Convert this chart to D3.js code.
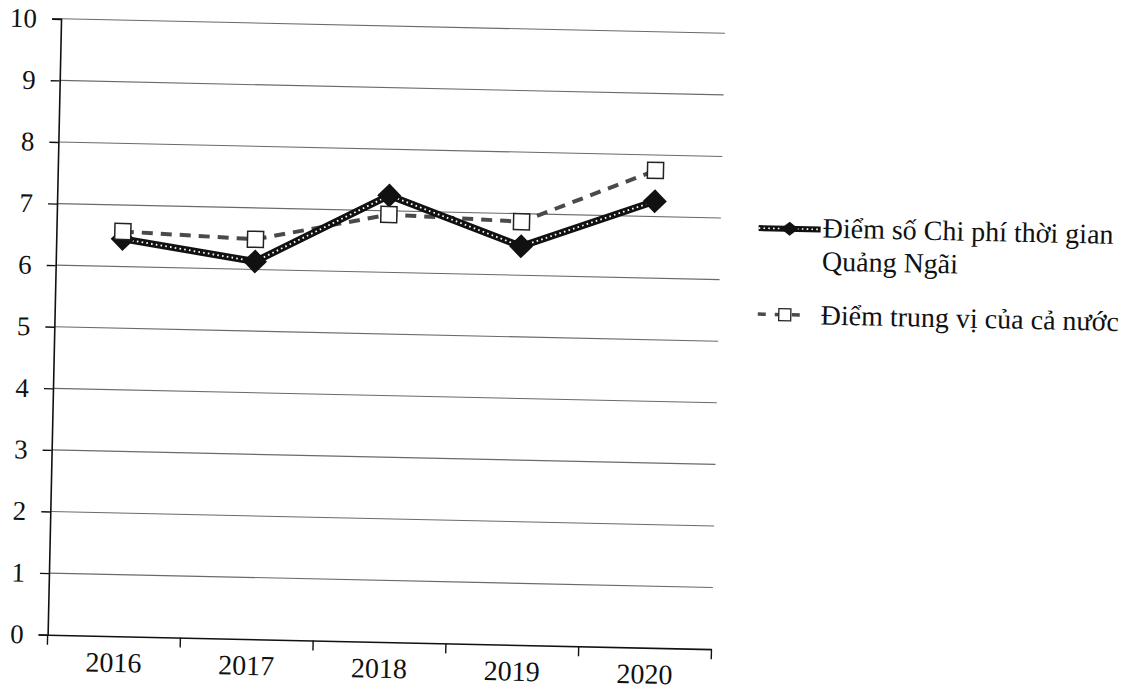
<!DOCTYPE html>
<html>
<head>
<meta charset="utf-8">
<script src="https://cdn.jsdelivr.net/npm/d3@7/dist/d3.min.js"></script>
<style>
  html, body { margin: 0; padding: 0; background: #fff; }
  svg { display: block; }
  text { font-family: "Liberation Serif", "Times New Roman", "DejaVu Serif", serif; fill: #111; }
</style>
</head>
<body>
<svg id="chart" width="1140" height="696"></svg>
<script>
// Time-cost sub-index scores, Quang Ngai vs. national median
const years = ["2016", "2017", "2018", "2019", "2020"];
const quangNgai = [6.45, 6.13, 7.25, 6.47, 7.25];
const nationalMedian = [6.57, 6.49, 6.94, 6.87, 7.75];
const yTicks = [0, 1, 2, 3, 4, 5, 6, 7, 8, 9, 10];
const seriesNames = [
  ["Điểm số Chi phí thời gian", "Quảng Ngãi"],
  ["Điểm trung vị của cả nước"]
];

const W = 1140, H = 696;
const serif = '"Liberation Serif", "Times New Roman", serif';
const svg = d3.select("#chart").attr("font-family", serif);

// the whole page sits slightly tilted
const root = svg.append("g").attr("transform", `rotate(1.25, ${W / 2}, ${H / 2})`);

const plot = { left: 54, right: 718, top: 30, bottom: 646 };

const x = d3.scaleBand().domain(years).range([plot.left, plot.right]);
const y = d3.scaleLinear().domain([0, 10]).range([plot.bottom, plot.top]);

// horizontal gridlines
root.append("g")
  .selectAll("line")
  .data(yTicks.filter(t => t > 0))
  .join("line")
  .attr("x1", plot.left).attr("x2", plot.right)
  .attr("y1", d => y(d)).attr("y2", d => y(d))
  .attr("stroke", "#6a6a6a")
  .attr("stroke-width", 1.1);

// y axis
const yAxis = root.append("g")
  .attr("transform", `translate(${plot.left},0)`)
  .call(d3.axisLeft(y).tickValues(yTicks).tickFormat(d3.format("d")).tickSize(9).tickPadding(15))
  .attr("font-family", serif);
yAxis.select(".domain").attr("stroke", "#111").attr("stroke-width", 1.6);
yAxis.selectAll(".tick line").attr("stroke", "#111").attr("stroke-width", 1.4);
yAxis.selectAll(".tick text")
  .style("font-family", serif)
  .style("font-size", "27px")
  .attr("fill", "#111");

// x axis: labels centred in each band, ticks on band edges
const xAxis = root.append("g")
  .attr("transform", `translate(0,${plot.bottom})`)
  .call(d3.axisBottom(x).tickSize(0).tickPadding(16))
  .attr("font-family", serif);
xAxis.select(".domain").attr("stroke", "#111").attr("stroke-width", 1.6);
xAxis.selectAll(".tick text")
  .style("font-family", serif)
  .style("font-size", "28px")
  .attr("fill", "#111");
const edges = years.map(d => x(d)).concat([x(years[years.length - 1]) + x.bandwidth()]);
root.append("g")
  .selectAll("line")
  .data(edges)
  .join("line")
  .attr("x1", d => d).attr("x2", d => d)
  .attr("y1", plot.bottom).attr("y2", plot.bottom + 10)
  .attr("stroke", "#111").attr("stroke-width", 1.4);

const cx = (d, i) => x(years[i]) + x.bandwidth() / 2;
const line = d3.line().x(cx).y(d => y(d));

// national median: dashed grey line with open squares
root.append("path")
  .datum(nationalMedian)
  .attr("d", line)
  .attr("fill", "none")
  .attr("stroke", "#4a4a4a")
  .attr("stroke-width", 4)
  .attr("stroke-dasharray", "11 8");

// Quang Ngai: heavy chained line with solid diamonds
const qnPath = root.append("g");
qnPath.append("path")
  .datum(quangNgai)
  .attr("d", line)
  .attr("fill", "none")
  .attr("stroke", "#111")
  .attr("stroke-width", 7)
  .attr("stroke-linejoin", "round");
qnPath.append("path")
  .datum(quangNgai)
  .attr("d", line)
  .attr("fill", "none")
  .attr("stroke", "#fff")
  .attr("stroke-width", 1.8)
  .attr("stroke-dasharray", "1.6 3.2");

root.append("g")
  .selectAll("path")
  .data(quangNgai)
  .join("path")
  .attr("transform", (d, i) => `translate(${cx(d, i)},${y(d)})`)
  .attr("d", "M0,-12L12,0L0,12L-12,0Z")
  .attr("fill", "#111");

root.append("g")
  .selectAll("rect")
  .data(nationalMedian)
  .join("rect")
  .attr("x", (d, i) => cx(d, i) - 8)
  .attr("y", d => y(d) - 8)
  .attr("width", 16).attr("height", 16)
  .attr("fill", "#fff")
  .attr("stroke", "#222")
  .attr("stroke-width", 1.5);

// legend
const legend = root.append("g");
const l1y = 224;
legend.append("line")
  .attr("x1", 756).attr("x2", 818).attr("y1", l1y).attr("y2", l1y)
  .attr("stroke", "#111").attr("stroke-width", 6);
legend.append("line")
  .attr("x1", 756).attr("x2", 818).attr("y1", l1y).attr("y2", l1y)
  .attr("stroke", "#fff").attr("stroke-width", 1.6).attr("stroke-dasharray", "1.6 3.2");
legend.append("path")
  .attr("transform", `translate(787,${l1y})`)
  .attr("d", "M0,-7L9,0L0,7L-9,0Z")
  .attr("fill", "#111");
legend.append("text")
  .attr("x", 820).attr("y", 232)
  .style("font-size", "28px")
  .text(seriesNames[0][0]);
legend.append("text")
  .attr("x", 820).attr("y", 265)
  .style("font-size", "28px")
  .text(seriesNames[0][1]);

const l2y = 310;
legend.append("line")
  .attr("x1", 757).attr("x2", 808).attr("y1", l2y).attr("y2", l2y)
  .attr("stroke", "#4a4a4a").attr("stroke-width", 3.5).attr("stroke-dasharray", "8 9");
legend.append("rect")
  .attr("x", 778).attr("y", l2y - 6).attr("width", 12).attr("height", 12)
  .attr("fill", "#fff").attr("stroke", "#222").attr("stroke-width", 1.3);
legend.append("text")
  .attr("x", 820).attr("y", 319)
  .style("font-size", "28px")
  .text(seriesNames[1][0]);
</script>
</body>
</html>
